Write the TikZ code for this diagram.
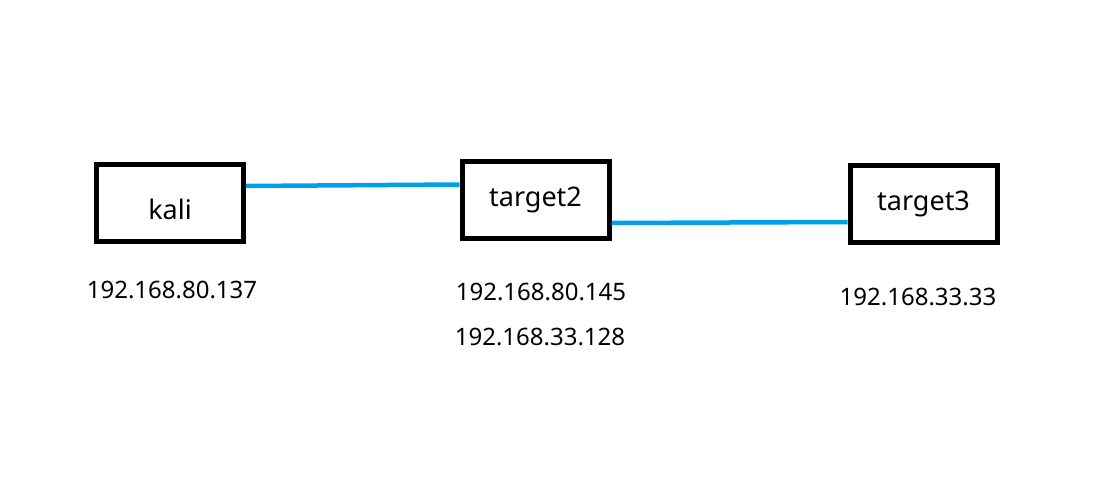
\documentclass[tikz,border=0pt]{standalone}
\usepackage{fontspec}
\setmainfont{Noto Sans}
\definecolor{linkblue}{RGB}{0,160,233}
\tikzset{
  host/.style={draw, line width=5pt, rectangle, minimum width=147pt, minimum height=77pt, inner sep=0pt, font=\fontsize{27}{32}\selectfont},
  addr/.style={inner sep=0pt, font=\fontsize{24}{29}\selectfont},
  link/.style={linkblue, line width=4.5pt}
}
\begin{document}
\begin{tikzpicture}[x=1pt, y=-1pt]
    \useasboundingbox (0,0) rectangle (1099,476);

    % Hosts
    \node[host] (kali) at (170,202.5) {\raisebox{-7pt}[\height][\depth]{kali}};
    \node[host] (target2) at (535.5,199.5) {target2};
    \node[host] (target3) at (923.5,203.5) {target3};

    % Addresses
    \node[addr] (ipkali) at (172,290) {192.168.80.137};
    \node[addr] (iptwoa) at (541,292) {192.168.80.145};
    \node[addr] (iptwob) at (540,337) {192.168.33.128};
    \node[addr] (ipthree) at (918,297) {192.168.33.33};

    % Links
    \draw[link] ([yshift=16.5pt]kali.east) -- ([yshift=15pt]target2.west);
    \draw[link] ([yshift=-23.5pt]target2.east) -- ([yshift=-18.5pt]target3.west);
\end{tikzpicture}
\end{document}
